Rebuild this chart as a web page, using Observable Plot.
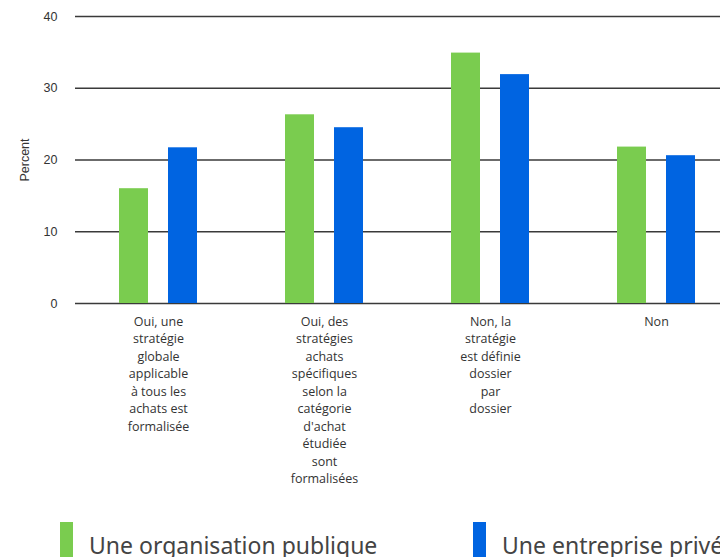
<!DOCTYPE html>
<html>
<head>
<meta charset="utf-8">
<script src="https://cdn.jsdelivr.net/npm/d3@7"></script>
<script src="https://cdn.jsdelivr.net/npm/@observablehq/plot@0.6"></script>
<style>
  html, body { margin: 0; padding: 0; background: #fff; overflow: hidden; }
  #wrap { position: relative; width: 720px; height: 557px; overflow: hidden; }
  #chart { position: absolute; left: 0; top: 0; width: 740px; }
  #chart svg { max-width: none !important; }
  .leg { position: absolute; height: 40px; font-family: "Noto Sans", sans-serif; font-size: 23px; color: #444; white-space: nowrap; line-height: 40px; }
  .sw { position: absolute; width: 13px; height: 40px; }
</style>
</head>
<body>
<div id="wrap">
  <div id="chart"></div>
  <div id="legend"></div>
</div>
<script>
const categories = [
  "Oui, une stratégie globale applicable à tous les achats est formalisée",
  "Oui, des stratégies achats spécifiques selon la catégorie d'achat étudiée sont formalisées",
  "Non, la stratégie est définie dossier par dossier",
  "Non"
];
const tickLabels = [
  "Oui, une\nstratégie\nglobale\napplicable\nà tous les\nachats est\nformalisée",
  "Oui, des\nstratégies\nachats\nspécifiques\nselon la\ncatégorie\nd'achat\nétudiée\nsont\nformalisées",
  "Non, la\nstratégie\nest définie\ndossier\npar\ndossier",
  "Non"
];
const series = ["Une organisation publique", "Une entreprise privée"];
const publique = [16, 26.3, 34.9, 21.8];
const privee = [21.7, 24.5, 31.9, 20.6];
const colors = ["#7acc4f", "#0064e1"];
const yTicks = [0, 10, 20, 30, 40];

const rows = [];
categories.forEach((c, i) => {
  rows.push({category: c, series: series[0], value: publique[i]});
  rows.push({category: c, series: series[1], value: privee[i]});
});

const chart = Plot.plot({
  width: 740,
  height: 500,
  marginLeft: 75,
  marginRight: 1,
  marginTop: 16,
  marginBottom: 197,
  style: {fontFamily: "'Open Sans', sans-serif", fontSize: "12px", color: "#333", background: "transparent", maxWidth: "none"},
  fx: {domain: categories, paddingInner: 0, paddingOuter: 0},
  x: {domain: series, paddingInner: 0.4, paddingOuter: 0.86, axis: null},
  y: {domain: [0, 40]},
  color: {domain: series, range: colors},
  marks: [
    Plot.ruleY(yTicks, {stroke: "#3a3a3a", strokeWidth: 1.5}),
    Plot.barY(rows, {fx: "category", x: "series", y: "value", fill: "series", inset: 0}),
    Plot.axisY({
      ticks: yTicks, tickSize: 0, tickPadding: 18,
      fontFamily: "'Liberation Sans', Arial, sans-serif", fontSize: 12.5,
      label: "Percent", labelAnchor: "center", labelArrow: "none", labelOffset: 55
    }),
    Plot.axisFx({
      anchor: "bottom", tickSize: 0, tickPadding: 10, label: null,
      lineHeight: 1.4, fontSize: 12.5,
      tickFormat: d => tickLabels[categories.indexOf(d)]
    })
  ]
});
chart.style.maxWidth = "none";
document.getElementById("chart").appendChild(chart);

const legend = document.getElementById("legend");
const legX = [60, 473];
series.forEach((s, i) => {
  const sw = document.createElement("div");
  sw.className = "sw";
  sw.style.left = legX[i] + "px";
  sw.style.top = "522px";
  sw.style.background = colors[i];
  legend.appendChild(sw);
  const t = document.createElement("div");
  t.className = "leg";
  t.style.left = (legX[i] + 29) + "px";
  t.style.top = "525px";
  t.textContent = s;
  legend.appendChild(t);
});
</script>
</body>
</html>
